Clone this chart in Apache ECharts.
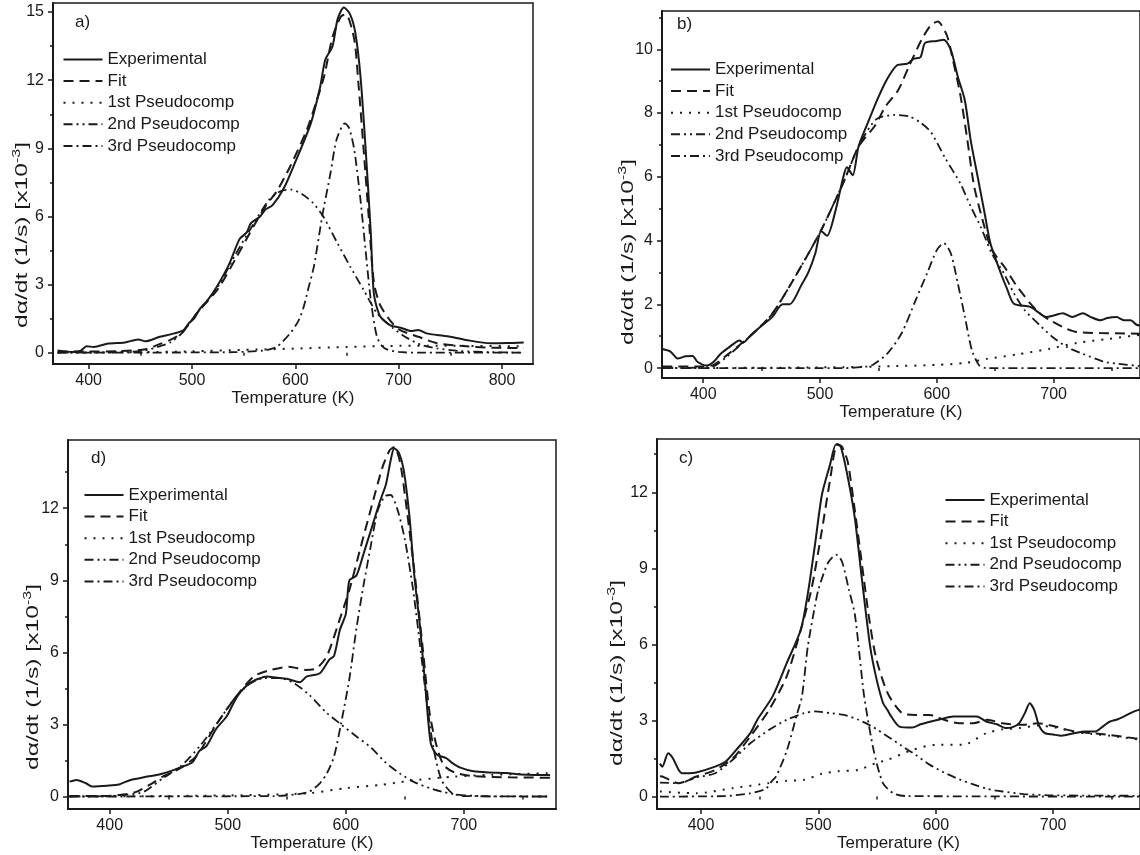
<!DOCTYPE html>
<html>
<head>
<meta charset="utf-8">
<script src="https://cdn.jsdelivr.net/npm/echarts@6/dist/echarts.min.js"></script>
<style>
  html, body { margin: 0; padding: 0; background: #fff; }
  #chart { width: 1140px; height: 855px; }
</style>
</head>
<body>
<div id="chart"></div>
<script>
// series names (same in every panel)
const names = ["Experimental", "Fit", "1st Pseudocomp", "2nd Pseudocomp", "3rd Pseudocomp"];

// tick labels
const xTicksA = [400, 500, 600, 700, 800];
const xTicks = [400, 500, 600, 700];
const xMinor = [450, 550, 650, 750];
const yTicks15 = [0, 3, 6, 9, 12, 15];
const yTicks12 = [0, 3, 6, 9, 12];
const yMinor3 = [1.5, 4.5, 7.5, 10.5, 13.5];
const yTicksB = [0, 2, 4, 6, 8, 10];
const yMinorB = [1, 3, 5, 7, 9, 11];

// panel a) [T (K), dα/dt x10^-3]
const aExp = [[370,0.1],[384,0.03],[392,0.08],[398,0.28],[405,0.25],[419,0.4],[435,0.45],[448,0.58],[455,0.5],[469,0.7],[483,0.85],[492,1.0],[497,1.3],[502,1.5],[508,1.95],[515,2.3],[524,2.9],[536,3.9],[546,5.0],[553,5.3],[557,5.7],[566,6.0],[571,6.3],[578,6.5],[589,7.25],[600,8.4],[615,10.1],[624,11.7],[629,12.9],[636,13.5],[641,14.7],[647,15.2],[653,14.9],[658,14.1],[663,12.2],[668,9.0],[673,5.3],[676,2.6],[682,1.6],[692,1.2],[702,1.1],[712,0.95],[719,1.0],[727,0.85],[737,0.78],[750,0.7],[765,0.56],[789,0.41],[805,0.42],[821,0.45]];
const aFit = [[370,0.05],[400,0.05],[430,0.07],[455,0.15],[470,0.4],[479,0.56],[490,0.85],[504,1.7],[525,2.8],[543,4.2],[560,5.6],[572,6.5],[582,7.1],[595,8.2],[611,9.8],[620,11.0],[628,12.2],[636,13.9],[644,14.8],[649,14.9],[657,13.8],[661,11.9],[666,9.0],[671,6.0],[676,3.1],[682,2.1],[692,1.4],[701,1.0],[719,0.7],[737,0.42],[760,0.3],[790,0.22],[821,0.2]];
const a1st = [[370,0],[450,0.02],[500,0.06],[550,0.12],[600,0.18],[650,0.25],[700,0.3],[750,0.3],[821,0.28]];
const a2nd = [[370,0],[430,0.02],[455,0.1],[470,0.3],[479,0.45],[490,0.85],[504,1.7],[525,2.9],[543,4.4],[560,5.7],[574,6.7],[585,7.1],[596,7.18],[606,7.0],[617,6.6],[627,6.0],[641,4.8],[653,3.8],[666,2.77],[679,1.74],[694,1.1],[708,0.65],[722,0.34],[737,0.19],[760,0.07],[790,0.02],[821,0]];
const a3rd = [[370,0],[540,0.02],[570,0.1],[582,0.26],[595,0.85],[603,1.4],[608,2.0],[613,2.9],[618,3.8],[626,6.0],[634,7.9],[640,9.4],[648,10.1],[652,9.9],[657,8.95],[663,6.75],[668,4.5],[673,2.33],[679,0.7],[686,0.2],[700,0.03],[721,0],[821,0]];

// panel b)
const bExp = [[365,0.6],[372,0.52],[378,0.3],[385,0.37],[391,0.38],[395,0.2],[403,0.08],[409,0.2],[415,0.45],[422,0.65],[431,0.87],[434,0.8],[440,1.0],[449,1.3],[459,1.6],[468,2.0],[474,2.0],[484,2.6],[490,3.0],[496,3.6],[501,4.3],[506,4.15],[513,4.9],[520,6.0],[523,6.3],[528,6.05],[533,6.95],[541,7.7],[550,8.5],[558,9.1],[566,9.5],[575,9.55],[580,9.7],[586,9.75],[590,10.2],[600,10.26],[606,10.3],[612,9.98],[618,9.14],[624,8.4],[629,7.15],[635,6.0],[641,4.85],[646,3.9],[655,2.96],[660,2.5],[666,2.02],[680,1.92],[687,1.75],[694,1.6],[700,1.65],[708,1.72],[716,1.6],[725,1.72],[732,1.6],[740,1.5],[746,1.57],[754,1.6],[760,1.5],[766,1.5],[771,1.36],[775,1.33]];
const bFit = [[365,0.05],[400,0.05],[409,0.1],[420,0.4],[440,1.0],[459,1.7],[484,3.2],[502,4.4],[521,5.9],[533,6.95],[547,7.6],[556,8.2],[567,8.72],[576,9.45],[587,10.3],[595,10.76],[601,10.87],[604,10.76],[609,10.4],[613,9.8],[620,8.6],[626,7.2],[632,5.7],[641,4.4],[646,3.8],[651,3.5],[658,3.17],[668,2.6],[680,2.03],[688,1.72],[697,1.5],[710,1.25],[720,1.13],[740,1.1],[754,1.09],[775,1.08]];
const b1st = [[365,0],[450,0.01],[520,0.03],[561,0.06],[600,0.1],[624,0.16],[643,0.29],[669,0.43],[697,0.61],[720,0.79],[748,0.92],[775,1.05]];
const b2nd = [[365,0],[400,0.02],[409,0.06],[420,0.35],[440,1.0],[459,1.7],[484,3.2],[502,4.4],[521,5.9],[533,6.95],[548,7.8],[564,7.94],[576,7.9],[586,7.7],[595,7.4],[607,6.6],[620,5.8],[629,5.07],[638,4.4],[647,3.6],[657,3.0],[666,2.35],[675,1.83],[688,1.35],[700,0.95],[712,0.65],[725,0.45],[743,0.2],[754,0.14],[775,0.06]];
const b3rd = [[365,0],[520,0],[535,0.03],[545,0.1],[558,0.47],[570,1.1],[582,2.14],[592,3.0],[600,3.7],[606,3.92],[612,3.6],[618,2.66],[624,1.62],[630,0.57],[636,0.1],[642,0],[775,0]];

// panel d)
const dExp = [[366,0.62],[372,0.69],[380,0.55],[385,0.42],[398,0.45],[408,0.5],[417,0.68],[429,0.8],[442,0.92],[454,1.1],[462,1.25],[470,1.42],[476,1.9],[482,2.1],[490,2.8],[499,3.33],[505,3.9],[510,4.3],[518,4.7],[526,4.9],[533,5.0],[541,4.95],[550,4.9],[561,4.76],[567,5.0],[578,5.13],[586,5.7],[590,5.85],[595,6.94],[600,7.6],[603,9.0],[609,9.2],[615,10.1],[622,11.2],[629,12.3],[634,13.0],[638,14.0],[641,14.5],[645,14.3],[649,13.6],[654,11.6],[658,9.2],[663,7.0],[668,4.2],[672,2.2],[677,1.75],[685,1.6],[690,1.4],[697,1.2],[708,1.05],[722,1.0],[736,0.98],[748,0.92],[760,0.9],[773,0.9]];
const dFit = [[366,0.02],[400,0.03],[415,0.1],[423,0.2],[436,0.55],[445,0.83],[457,1.1],[473,1.66],[491,3.05],[507,4.16],[522,5.0],[535,5.25],[552,5.4],[566,5.27],[575,5.33],[584,5.85],[595,7.4],[603,8.6],[612,10.27],[621,11.93],[631,13.7],[637,14.4],[641,14.55],[646,13.9],[652,11.8],[658,9.4],[665,6.24],[671,3.47],[677,2.08],[683,1.3],[692,1.0],[708,0.85],[739,0.8],[773,0.78]];
const d1st = [[366,0],[450,0.02],[520,0.06],[569,0.14],[600,0.35],[631,0.49],[646,0.6],[661,0.69],[692,0.83],[723,0.9],[773,0.97]];
const d2nd = [[366,0],[400,0.02],[415,0.08],[429,0.2],[445,0.76],[460,1.25],[476,2.08],[491,3.05],[507,4.16],[519,4.7],[531,4.93],[544,4.93],[556,4.72],[569,4.23],[584,3.47],[596,3.0],[609,2.5],[621,2.05],[634,1.4],[646,0.95],[658,0.6],[671,0.35],[683,0.18],[698,0.06],[720,0.01],[773,0]];
const d3rd = [[366,0],[540,0.02],[560,0.1],[569,0.2],[578,0.55],[584,0.97],[590,1.66],[596,3.05],[603,4.9],[609,7.0],[615,8.8],[621,10.4],[627,11.9],[633,12.5],[638,12.55],[644,11.9],[650,10.7],[657,8.6],[663,6.24],[668,4.16],[674,2.08],[681,0.69],[690,0.14],[700,0.02],[773,0]];

// panel c)
const cExp = [[365,1.3],[367,1.18],[372,1.71],[376,1.51],[381,1.05],[384,0.92],[390,0.92],[396,0.95],[412,1.18],[421,1.38],[430,1.84],[442,2.5],[448,3.03],[461,3.95],[473,5.26],[485,6.58],[491,8.0],[497,9.9],[503,11.9],[510,13.1],[515,13.88],[519,13.8],[525,12.6],[531,11.0],[537,8.6],[544,5.95],[549,4.74],[555,3.7],[559,3.4],[562,3.16],[569,2.76],[580,2.72],[587,2.85],[595,2.95],[604,3.05],[615,3.16],[626,3.16],[635,3.16],[643,2.96],[652,2.85],[660,2.7],[666,2.75],[671,2.89],[676,3.3],[680,3.68],[684,3.4],[688,2.8],[693,2.5],[700,2.45],[707,2.4],[718,2.5],[727,2.57],[736,2.57],[742,2.75],[748,2.95],[755,3.05],[762,3.2],[769,3.36],[775,3.45]];
const cFit = [[365,0.8],[367,0.79],[381,0.53],[396,0.79],[412,1.05],[427,1.5],[442,2.37],[458,3.42],[473,4.74],[485,6.58],[494,8.16],[503,10.5],[510,12.5],[516,13.9],[520,13.8],[525,13.2],[531,11.3],[537,9.2],[543,7.1],[549,5.5],[559,4.08],[571,3.3],[583,3.22],[595,3.22],[607,3.03],[620,2.89],[632,2.89],[644,3.03],[657,2.89],[675,2.83],[687,2.89],[702,2.76],[718,2.57],[733,2.5],[748,2.43],[769,2.3],[775,2.27]];
const c1st = [[365,0.2],[396,0.13],[427,0.33],[458,0.53],[473,0.62],[488,0.66],[503,0.9],[517,1.0],[534,1.05],[549,1.32],[559,1.45],[580,1.84],[600,2.04],[623,2.04],[643,2.5],[657,2.65],[671,2.7],[687,2.8],[702,2.72],[718,2.55],[733,2.47],[748,2.4],[775,2.24]];
const c2nd = [[365,0.55],[381,0.53],[396,0.75],[412,0.92],[427,1.45],[442,2.1],[458,2.63],[473,3.03],[488,3.29],[497,3.36],[510,3.29],[522,3.22],[534,3.03],[546,2.76],[559,2.37],[571,2.0],[583,1.64],[595,1.25],[607,0.95],[620,0.68],[632,0.48],[644,0.3],[657,0.2],[675,0.1],[700,0.05],[775,0.03]];
const c3rd = [[365,0],[420,0.02],[442,0.13],[455,0.3],[460,0.59],[464,0.8],[473,1.8],[482,3.29],[486,3.95],[491,5.92],[497,7.5],[500,8.16],[508,9.2],[515,9.54],[520,9.28],[526,8.16],[531,7.2],[535,5.6],[539,3.95],[547,1.84],[555,0.53],[564,0.13],[575,0.02],[775,0]];

const ink = "#1a1a1a";
const font = "'Liberation Sans', Arial, Helvetica, sans-serif";
const dashes = [
  { type: "solid", width: 2 },
  { type: [10, 6], width: 2 },
  { type: [2, 7], width: 2 },
  { type: [9, 4, 2, 4, 2, 4], width: 1.8 },
  { type: [9, 4, 2, 4], width: 1.8 }
];

const panels = [
  { tag: "a)", data: [aExp, aFit, a1st, a2nd, a3rd], grid: { left: 53, top: 3, width: 480, height: 361 },
    x: [365.5, 830], y: [-0.5, 15.4], xt: xTicksA, yt: yTicks15, ym: yMinor3,
    legend: { left: 62.5, top: 51 }, tagPos: [75, 24], yName: [22, 235], gap: 25 },
  { tag: "b)", data: [bExp, bFit, b1st, b2nd, b3rd], grid: { left: 662, top: 11, width: 482, height: 367 },
    x: [364.7, 774], y: [-0.31, 11.2], xt: xTicks, yt: yTicksB, ym: yMinorB,
    legend: { left: 670, top: 61 }, tagPos: [677, 26], yName: [628, 252], gap: 23 },
  { tag: "d)", data: [dExp, dFit, d1st, d2nd, d3rd], grid: { left: 68, top: 440, width: 488, height: 369 },
    x: [364.7, 778], y: [-0.52, 14.84], xt: xTicks, yt: yTicks12, ym: yMinor3,
    legend: { left: 83.5, top: 486.5 }, tagPos: [91, 460], yName: [33, 677], gap: 24 },
  { tag: "c)", data: [cExp, cFit, c1st, c2nd, c3rd], grid: { left: 657, top: 439, width: 489, height: 370 },
    x: [362.5, 774], y: [-0.49, 14.1], xt: xTicks, yt: yTicks12, ym: yMinor3,
    legend: { left: 944.5, top: 491.5 }, tagPos: [679, 460], yName: [617, 673], gap: 24 }
];

const grid = [], xAxis = [], yAxis = [], legend = [], series = [], graphic = [];
const labelStyle = { color: ink, fontSize: 16, fontFamily: font };

panels.forEach((p, i) => {
  grid.push(Object.assign({ show: true, borderColor: ink, borderWidth: 1.5, containLabel: false }, p.grid));
  xAxis.push({
    type: "value", gridIndex: i, position: "bottom", min: p.x[0], max: p.x[1],
    axisLine: { show: true, onZero: false, lineStyle: { color: ink, width: 2 } },
    axisTick: { show: true, customValues: p.xt, length: 5, lineStyle: { color: ink, width: 1.5 } },
    axisLabel: Object.assign({ customValues: p.xt, margin: 9 }, labelStyle),
    splitLine: { show: false },
    name: "Temperature (K)", nameLocation: "middle", nameGap: p.gap,
    nameTextStyle: { color: ink, fontSize: 17, fontFamily: font }
  });
  xAxis.push({
    type: "value", gridIndex: i, position: "bottom", min: p.x[0], max: p.x[1],
    axisLine: { show: false }, axisLabel: { show: false }, splitLine: { show: false },
    axisTick: { show: true, customValues: xMinor, length: 3, lineStyle: { color: ink, width: 1.5 } }
  });
  yAxis.push({
    type: "value", gridIndex: i, position: "left", min: p.y[0], max: p.y[1],
    axisLine: { show: true, onZero: false, lineStyle: { color: ink, width: 2 } },
    axisTick: { show: true, customValues: p.yt, length: 5, lineStyle: { color: ink, width: 1.5 } },
    axisLabel: Object.assign({ customValues: p.yt, margin: 9 }, labelStyle),
    splitLine: { show: false }
  });
  yAxis.push({
    type: "value", gridIndex: i, position: "left", min: p.y[0], max: p.y[1],
    axisLine: { show: false }, axisLabel: { show: false }, splitLine: { show: false },
    axisTick: { show: true, customValues: p.ym, length: 3, lineStyle: { color: ink, width: 1.5 } }
  });
  legend.push({
    data: names, orient: "vertical", left: p.legend.left, top: p.legend.top, padding: 0,
    itemWidth: 39, itemHeight: 14, itemGap: 4.6, selectedMode: false,
    itemStyle: { opacity: 0 },
    textStyle: { color: ink, fontSize: 17, fontFamily: font }
  });
  p.data.forEach((d, k) => {
    series.push({
      type: "line", name: names[k], data: d,
      xAxisIndex: 2 * i, yAxisIndex: 2 * i,
      showSymbol: false, symbol: "none", smooth: 0.25,
      lineStyle: { color: ink, width: dashes[k].width, type: dashes[k].type },
      itemStyle: { color: ink }, z: 5 - k
    });
  });
  graphic.push({
    type: "text", left: p.tagPos[0], top: p.tagPos[1] - 10,
    style: { text: p.tag, fill: ink, font: "17px " + font }
  });
  graphic.push({
    type: "text", x: p.yName[0], y: p.yName[1], rotation: Math.PI / 2, scaleX: 1.45,
    style: {
      text: "{n|dα/dt (1/s) [x10}{s|-3}{n|]}",
      fill: ink, align: "center", verticalAlign: "middle",
      textAlign: "center", textVerticalAlign: "middle",
      rich: {
        n: { fontSize: 17, lineHeight: 22, fontFamily: font, fill: ink, color: ink },
        s: { fontSize: 11, lineHeight: 12, fontFamily: font, fill: ink, color: ink, verticalAlign: "top" }
      }
    }
  });
});

const chart = echarts.init(document.getElementById("chart"), null, { renderer: "canvas" });
chart.setOption({
  animation: false,
  backgroundColor: "#fff",
  grid: grid, xAxis: xAxis, yAxis: yAxis, legend: legend, series: series, graphic: graphic
});
</script>
</body>
</html>
